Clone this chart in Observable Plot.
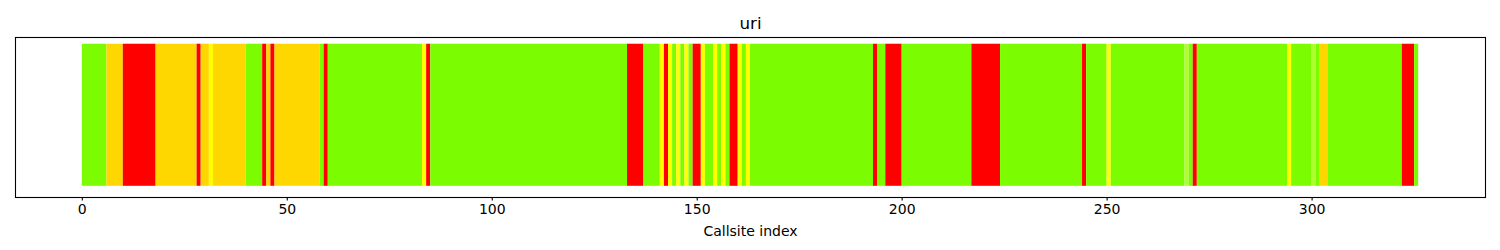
<!DOCTYPE html>
<html><head><meta charset="utf-8">
<script src="https://cdn.jsdelivr.net/npm/d3@7"></script>
<script src="https://cdn.jsdelivr.net/npm/@observablehq/plot@0.6"></script>
<style>body{margin:0;background:#fff}</style>
</head><body><div id="chart"></div>
<script>
const title = "uri";
const xLabel = "Callsite index";
const xTicks = [0, 50, 100, 150, 200, 250, 300];
const statusNames = ["green", "gold", "red", "yellow", "yellowgreen"];
const statusColors = ["#7CFC00", "#FFD700", "#FF0000", "#FFFF00", "#ADFF2F"];
const runStart = [0,6,10,18,28,29,31,32,40,44,45,46,47,58,59,60,83,84,85,133,137,141,142,143,144,145,146,147,148,149,151,152,154,155,156,157,158,160,161,162,163,193,194,196,200,217,224,244,245,250,251,269,270,271,272,294,295,300,301,302,304,322,325];
const runEnd   = [6,10,18,28,29,31,32,40,44,45,46,47,58,59,60,83,84,85,133,137,141,142,143,144,145,146,147,148,149,151,152,154,155,156,157,158,160,161,162,163,193,194,196,200,217,224,244,245,250,251,269,270,271,272,294,295,300,301,302,304,322,325,326];
const runStatus = ["green","gold","red","gold","red","gold","yellow","gold","green","red","gold","red","gold","green","red","green","yellow","red","green","red","green","yellow","red","yellow","green","yellow","green","yellow","green","red","yellow","green","yellow","green","yellow","green","red","yellow","green","yellow","green","red","green","red","green","red","green","red","green","yellow","green","yellowgreen","green","red","green","yellow","green","yellowgreen","green","gold","green","red","green"];

const runs = runStart.map((s, i) => ({start: s, end: runEnd[i], status: runStatus[i]}));
const n = d3.max(runEnd);
const pad = n * 0.05;

const chart = Plot.plot({
  width: 1500,
  height: 250,
  marginLeft: 15,
  marginRight: 15,
  marginTop: 37,
  marginBottom: 53,
  style: {fontFamily: "'DejaVu Sans', sans-serif", fontSize: "14px", background: "#fff", overflow: "visible"},
  x: {domain: [-pad, n + pad]},
  y: {domain: [0, 1], axis: null},
  color: {domain: statusNames, range: statusColors},
  marks: [
    Plot.rect(runs, {x1: "start", x2: "end", y1: 0.07, y2: 0.958, fill: "status"}),
    Plot.frame({stroke: "black", strokeWidth: 1.1}),
    Plot.axisX({ticks: xTicks, tickSize: 3.5, tickPadding: 3, fontSize: 14, label: null, stroke: "black", strokeWidth: 1.1, color: "black"}),
    Plot.text([title], {text: d => d, frameAnchor: "top", lineAnchor: "middle", dy: -14, fontSize: 16.7, fill: "black"}),
    Plot.text([xLabel], {text: d => d, frameAnchor: "bottom", lineAnchor: "middle", dy: 34, fontSize: 14, fill: "black"})
  ]
});
document.getElementById("chart").appendChild(chart);
</script>
</body></html>
